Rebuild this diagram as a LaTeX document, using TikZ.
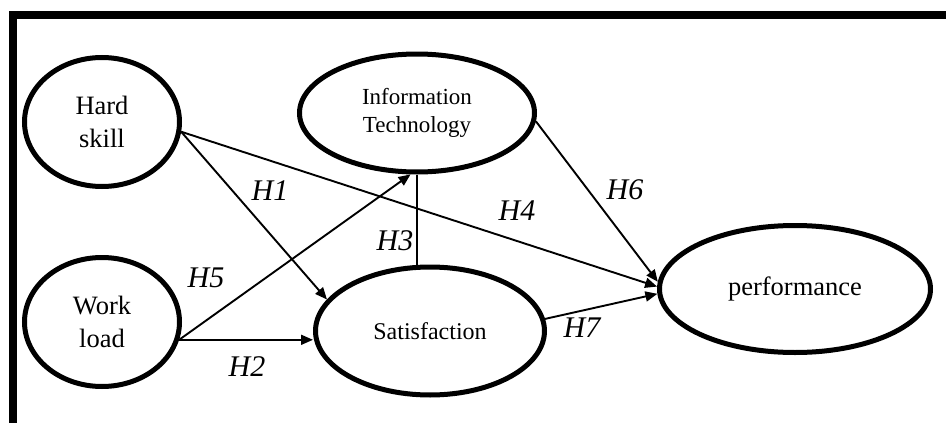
\documentclass[tikz,border=0pt]{standalone}
\usepackage{fontspec}
\setmainfont{Liberation Serif}
\usetikzlibrary{shapes.geometric,arrows.meta}
\begin{document}
\begin{tikzpicture}[x=1pt,y=-1pt,
  latent/.style={ellipse,draw,line width=5pt,inner sep=0pt,align=center},
  arrowpath/.style={line width=1.9pt,-{Triangle[length=12pt,width=10pt]}},
  plainlink/.style={line width=1.9pt},
  hyp/.style={font=\fontsize{30}{30}\selectfont\itshape,inner sep=0pt}]
\useasboundingbox (0,0) rectangle (946,423);
\fill (9,11) rectangle (946,19);
\fill (9,11) rectangle (17,423);

\node[latent,minimum width=155pt,minimum height=129pt,font=\fontsize{26.5}{33}\selectfont] (hs) at (102,122) {Hard\\skill};
\node[latent,minimum width=155pt,minimum height=129pt,font=\fontsize{26.5}{33}\selectfont] (wl) at (102,322) {Work\\load};
\node[latent,minimum width=235pt,minimum height=118pt,font=\fontsize{23}{28}\selectfont] (it) at (417,113) {Information\\Technology};
\node[latent,minimum width=229pt,minimum height=128pt,font=\fontsize{24}{28}\selectfont] (sat) at (430,331) {Satisfaction};
\node[latent,minimum width=271pt,minimum height=127pt,font=\fontsize{26.5}{30}\selectfont] (perf) at (795,289) {performance};

\draw[arrowpath] (hs.-7) -- (perf.179);
\draw[arrowpath] (hs.-7) -- (sat.163);
\draw[arrowpath] (wl.-13) -- (sat.west |- wl.-13);
\draw[arrowpath] (wl.-13) -- (it.264);
\draw[plainlink] (it.south) -- (it.south |- sat.north);
\draw[arrowpath] (it.-4) -- (perf.177);
\draw[arrowpath] (sat.6) -- (perf.182);

\node[hyp] (h1) at (270,191) {H1};
\node[hyp] (h2) at (247,367) {H2};
\node[hyp] (h3) at (395,241) {H3};
\node[hyp] (h4) at (517,211) {H4};
\node[hyp] (h5) at (206,278) {H5};
\node[hyp] (h6) at (625,190) {H6};
\node[hyp] (h7) at (582,328) {H7};
\end{tikzpicture}
\end{document}
